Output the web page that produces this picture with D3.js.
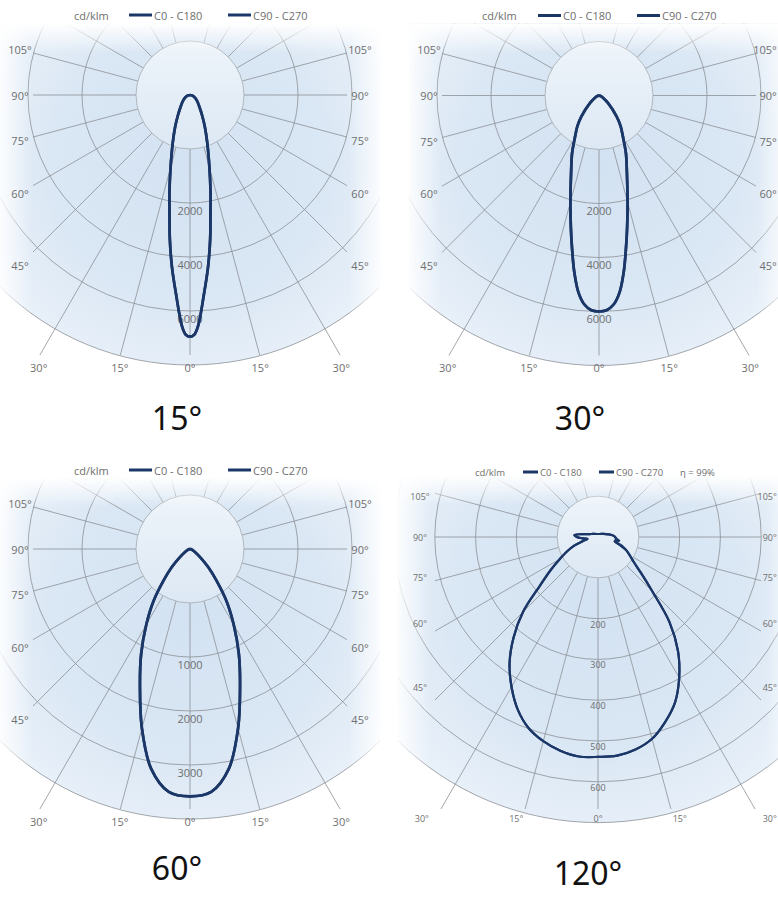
<!DOCTYPE html>
<html>
<head>
<meta charset="utf-8">
<script src="https://cdn.jsdelivr.net/npm/d3@7"></script>
<style>
  body { margin: 0; background: #fff; }
  svg { display: block; }
</style>
</head>
<body>
<svg id="chart" width="778" height="900"></svg>
<script>
// Gamma angles (deg from nadir) and luminous intensity in cd/klm.
var gamma15 = [0, 1, 2, 4, 6, 8, 10, 12, 15, 20, 25, 30, 40, 50, 60, 70, 80, 90];
var cd15 = [6950, 6880, 6560, 5400, 4400, 3370, 2370, 1830, 1390, 930, 650, 460, 260, 170, 110, 65, 28, 0];

var gamma30 = [0, 2, 4, 6, 8, 10, 12, 15, 20, 25, 30, 35, 40, 50, 60, 70, 80, 90];
var cd30 = [6000, 5960, 5760, 5320, 4590, 3750, 3010, 2090, 1510, 1180, 890, 700, 510, 220, 90, 35, 10, 0];

var gamma60 = [0, 5, 10, 15, 20, 25, 30, 35, 40, 45, 50, 60, 70, 80, 90];
var cd60 = [3580, 3515, 3135, 2440, 1710, 1140, 810, 590, 380, 240, 135, 50, 20, 5, 0];

var gamma120 = [0, 5, 10, 15, 20, 25, 30, 35, 40, 45, 50, 55, 60, 65, 70, 75, 80, 85, 90, 95, 100, 110, 120, 135, 150, 165, 180];
var cd120C0 = [539, 538, 529, 512, 482, 447, 398, 342, 273, 188, 138, 107, 90, 76, 56, 44, 53, 45, 42, 38, 32, 21, 15, 10.5, 8.5, 7.6, 7.4];
var cd120C180 = [539, 540, 532, 518, 498, 466, 424, 378, 322, 260, 186, 142, 108, 84, 62, 38, 26, 38, 52, 58, 40, 21, 15, 10.5, 8.5, 7.6, 7.4];
var cd120C90 = [539, 538, 529, 512, 482, 447, 398, 342, 273, 188, 138, 107, 90, 76, 62, 42, 44, 44, 42, 38, 32, 21, 15, 10.5, 8.5, 7.6, 7.4];
var cd120C270 = [539, 540, 532, 518, 498, 466, 424, 378, 322, 260, 186, 142, 108, 84, 62, 38, 26, 38, 52, 58, 40, 21, 15, 10.5, 8.5, 7.6, 7.4];

// Labelled circles and drawn circles.
var ticks15 = [2000, 4000, 6000];
var rings15 = [2000, 4000, 6000, 8000];
var ticks30 = [2000, 4000, 6000];
var rings30 = [2000, 4000, 6000, 8000];
var ticks60 = [1000, 2000, 3000];
var rings60 = [1000, 2000, 3000, 4000];
var ticks120 = [200, 300, 400, 500, 600];
var rings120 = [200, 300, 400, 500, 600, 700];

var sideAngles = [105, 90, 75, 60, 45];
var bottomAngles = [30, 15, 0, 15, 30];
var rayAngles = d3.range(0, 180, 15);
var titles = ["15°", "30°", "60°", "120°"];
var legendNames = ["C0 - C180", "C90 - C270"];
var unitLabel = "cd/klm";
var etaLabel = "η = 99%";

var navy = "#1b3768";
var gridColor = "#8b9097";
var textColor = "#6f6f6f";
var font = "'Open Sans', 'Noto Sans', sans-serif";
var pageW = 778;

var charts = [
  {id: "b15", title: titles[0], gamma: gamma15, planes: [[cd15, cd15], [cd15, cd15]],
    ticks: ticks15, rings: rings15, cx: 190, cy: 95, unit: 54,
    halfW: 190, topGap: 72, bottomGap: 285, rayX: 157, rayY: 260,
    sideX: 170, sideY: 170, bottomX: 262, bottomY: 272, font: 11, tickOff: 7, stroke: 2.7,
    legend: {dy: -80, size: 11, unitX: -116, items: [-61, 38], len: 23, eta: null},
    titleX: 177, titleY: 430},
  {id: "b30", title: titles[1], gamma: gamma30, planes: [[cd30, cd30], [cd30, cd30]],
    ticks: ticks30, rings: rings30, cx: 599, cy: 95.5, unit: 54,
    halfW: 190, topGap: 72, bottomGap: 285, rayX: 157, rayY: 260,
    sideX: 170, sideY: 170, bottomX: 262, bottomY: 272, font: 11, tickOff: 7, stroke: 2.7,
    legend: {dy: -80, size: 11, unitX: -117, items: [-61, 38], len: 23, eta: null},
    titleX: 580, titleY: 430},
  {id: "b60", title: titles[2], gamma: gamma60, planes: [[cd60, cd60], [cd60, cd60]],
    ticks: ticks60, rings: rings60, cx: 190, cy: 549, unit: 54,
    halfW: 190, topGap: 72, bottomGap: 285, rayX: 157, rayY: 260,
    sideX: 170, sideY: 170, bottomX: 262, bottomY: 272, font: 11, tickOff: 7, stroke: 2.7,
    legend: {dy: -79, size: 11, unitX: -116, items: [-61, 38], len: 23, eta: null},
    titleX: 177, titleY: 880},
  {id: "b120", title: titles[3], gamma: gamma120, planes: [[cd120C0, cd120C180], [cd120C90, cd120C270]],
    ticks: ticks120, rings: rings120, cx: 598, cy: 537, unit: 40.8,
    halfW: 200, topGap: 62, bottomGap: 292, rayX: 163, rayY: 272,
    sideX: 178, sideY: 150, bottomX: 305, bottomY: 281, font: 9, tickOff: 5.5, stroke: 2.2,
    legend: {dy: -65, size: 9.5, unitX: -123, items: [-75, 1], len: 15, eta: 82},
    titleX: 588, titleY: 885}
];

var svg = d3.select("#chart");
var defs = svg.append("defs");

// Shared white fades for the panel edges.
function fade(id, x1, y1, x2, y2, maxOpacity) {
  var lg = defs.append("linearGradient").attr("id", id)
    .attr("x1", x1).attr("y1", y1).attr("x2", x2).attr("y2", y2);
  lg.append("stop").attr("offset", 0).attr("stop-color", "#fff").attr("stop-opacity", maxOpacity);
  lg.append("stop").attr("offset", 1).attr("stop-color", "#fff").attr("stop-opacity", 0);
}
fade("fadeTop", 0, 0, 0, 1, 1);
fade("fadeLeft", 0, 0, 1, 0, 0.85);
fade("fadeRight", 1, 0, 0, 0, 0.85);

var disc = defs.append("linearGradient").attr("id", "disc")
  .attr("x1", 0).attr("y1", 0).attr("x2", 0).attr("y2", 1);
disc.append("stop").attr("offset", 0).attr("stop-color", "#eef4fa");
disc.append("stop").attr("offset", 1).attr("stop-color", "#dce8f4");

// Keep a label inside the page, as the reference shows it right at the edge.
function keepInside(sel) {
  sel.each(function () {
    var bb = this.getBBox();
    var over = bb.x + bb.width - (pageW - 1);
    if (over > 0) {
      d3.select(this).attr("x", +d3.select(this).attr("x") - over);
    }
  });
}

charts.forEach(drawChart);

function drawChart(c) {
  var rad = Math.PI / 180;
  var r = d3.scaleLinear()
    .domain([0, c.ticks[0], c.ticks[c.ticks.length - 1]])
    .range([0, 2 * c.unit, (c.ticks.length + 1) * c.unit]);
  var R = r(c.rings[c.rings.length - 1]);
  var top = c.cy - c.topGap, bottom = c.cy + c.bottomGap;
  var left = c.cx - c.halfW, right = c.cx + c.halfW;

  defs.append("clipPath").attr("id", "clip-" + c.id)
    .append("rect")
    .attr("x", left).attr("y", top)
    .attr("width", right - left).attr("height", bottom - top);

  var bg = defs.append("radialGradient").attr("id", "bg-" + c.id)
    .attr("gradientUnits", "userSpaceOnUse")
    .attr("cx", c.cx).attr("cy", c.cy + 70).attr("r", R);
  [[0, "#d3e2f2"], [0.5, "#dae7f4"], [0.8, "#e8f0f9"], [1, "#f8fbfd"]].forEach(function (s) {
    bg.append("stop").attr("offset", s[0]).attr("stop-color", s[1]);
  });

  var g = svg.append("g");
  var panel = g.append("g").attr("clip-path", "url(#clip-" + c.id + ")");

  panel.append("circle")
    .attr("cx", c.cx).attr("cy", c.cy).attr("r", R)
    .attr("fill", "url(#bg-" + c.id + ")");

  // Concentric circles.
  panel.selectAll(".ring")
    .data(c.rings)
    .join("circle")
    .attr("class", "ring")
    .attr("cx", c.cx).attr("cy", c.cy)
    .attr("r", function (d) { return r(d); })
    .attr("fill", "none")
    .attr("stroke", gridColor)
    .attr("stroke-width", 0.8);

  // Radial lines every 15 degrees, both sides.
  var rays = [];
  rayAngles.forEach(function (a) {
    rays.push({a: a, side: 1});
    if (a > 0) rays.push({a: a, side: -1});
  });
  function rayEnd(a) {
    var s = Math.sin(a * rad), co = Math.cos(a * rad);
    var lim = [];
    if (s > 1e-6) lim.push(c.rayX / s);
    if (co > 1e-6) lim.push(c.rayY / co);
    if (co < -1e-6) lim.push((c.cy - top) / -co);
    return d3.min(lim);
  }
  panel.selectAll(".ray")
    .data(rays)
    .join("line")
    .attr("class", "ray")
    .attr("x1", function (d) { return c.cx + d.side * Math.sin(d.a * rad) * c.unit; })
    .attr("y1", function (d) { return c.cy + Math.cos(d.a * rad) * c.unit; })
    .attr("x2", function (d) { return c.cx + d.side * Math.sin(d.a * rad) * rayEnd(d.a); })
    .attr("y2", function (d) { return c.cy + Math.cos(d.a * rad) * rayEnd(d.a); })
    .attr("stroke", gridColor)
    .attr("stroke-width", 0.8);

  // Inner disc.
  panel.append("circle")
    .attr("cx", c.cx).attr("cy", c.cy).attr("r", c.unit)
    .attr("fill", "url(#disc)")
    .attr("stroke", "#a3a9af")
    .attr("stroke-width", 0.8);

  // Edge fades.
  panel.append("rect").attr("x", left).attr("y", top)
    .attr("width", right - left).attr("height", 30).attr("fill", "url(#fadeTop)");
  panel.append("rect").attr("x", left).attr("y", top)
    .attr("width", 32).attr("height", bottom - top).attr("fill", "url(#fadeLeft)");
  panel.append("rect").attr("x", right - 32).attr("y", top)
    .attr("width", 32).attr("height", bottom - top).attr("fill", "url(#fadeRight)");

  // Intensity labels on the 0° axis.
  g.selectAll(".tick")
    .data(c.ticks)
    .join("text")
    .attr("class", "tick")
    .attr("x", c.cx)
    .attr("y", function (d) { return c.cy + r(d) + c.tickOff; })
    .attr("text-anchor", "middle")
    .attr("dominant-baseline", "central")
    .attr("font-family", font)
    .attr("font-size", c.font)
    .attr("fill", textColor)
    .text(function (d) { return String(d); });

  // Angle labels.
  var side = [];
  sideAngles.forEach(function (a) {
    side.push({a: a, s: -1});
    side.push({a: a, s: 1});
  });
  g.selectAll(".side")
    .data(side)
    .join("text")
    .attr("class", "side")
    .attr("x", function (d) { return c.cx + d.s * c.sideX; })
    .attr("y", function (d) { return c.cy + c.sideY * Math.tan((90 - d.a) * rad); })
    .attr("text-anchor", "middle")
    .attr("dominant-baseline", "central")
    .attr("font-family", font)
    .attr("font-size", c.font)
    .attr("fill", textColor)
    .text(function (d) { return d.a + "°"; })
    .call(keepInside);

  g.selectAll(".bottom")
    .data(bottomAngles)
    .join("text")
    .attr("class", "bottom")
    .attr("x", function (d, i) {
      var s = i < 2 ? -1 : 1;
      return c.cx + s * c.bottomX * Math.tan(d * rad);
    })
    .attr("y", c.cy + c.bottomY)
    .attr("text-anchor", "middle")
    .attr("dominant-baseline", "central")
    .attr("font-family", font)
    .attr("font-size", c.font)
    .attr("fill", textColor)
    .text(function (d) { return d + "°"; })
    .call(keepInside);

  // Distribution curves: right half = C0 / C90, left half = C180 / C270.
  var line = d3.lineRadial()
    .angle(function (d) { return d[0]; })
    .radius(function (d) { return r(d[1]); })
    .curve(d3.curveCatmullRom.alpha(0.5));

  c.planes.forEach(function (p) {
    var pts = [];
    for (var i = c.gamma.length - 1; i >= 0; i--) {
      pts.push([Math.PI + c.gamma[i] * rad, p[1][i]]);
    }
    for (var j = 1; j < c.gamma.length; j++) {
      pts.push([Math.PI - c.gamma[j] * rad, p[0][j]]);
    }
    g.append("path")
      .attr("transform", "translate(" + c.cx + "," + c.cy + ")")
      .attr("d", line(pts))
      .attr("fill", "none")
      .attr("stroke", navy)
      .attr("stroke-width", c.stroke)
      .attr("stroke-linejoin", "round");
  });

  // Legend.
  var lg = c.legend;
  var ly = c.cy + lg.dy;
  g.append("text")
    .attr("x", c.cx + lg.unitX).attr("y", ly)
    .attr("dominant-baseline", "central")
    .attr("font-family", font).attr("font-size", lg.size)
    .attr("fill", textColor)
    .text(unitLabel);
  lg.items.forEach(function (x, i) {
    g.append("line")
      .attr("x1", c.cx + x).attr("x2", c.cx + x + lg.len)
      .attr("y1", ly).attr("y2", ly)
      .attr("stroke", navy).attr("stroke-width", 3);
    g.append("text")
      .attr("x", c.cx + x + lg.len + 2).attr("y", ly)
      .attr("dominant-baseline", "central")
      .attr("font-family", font).attr("font-size", lg.size)
      .attr("fill", textColor)
      .text(legendNames[i]);
  });
  if (lg.eta !== null) {
    g.append("text")
      .attr("x", c.cx + lg.eta).attr("y", ly)
      .attr("dominant-baseline", "central")
      .attr("font-family", font).attr("font-size", lg.size)
      .attr("fill", textColor)
      .text(etaLabel);
  }

  // Beam angle title.
  svg.append("text")
    .attr("x", c.titleX).attr("y", c.titleY)
    .attr("text-anchor", "middle")
    .attr("font-family", "'Noto Sans', sans-serif")
    .attr("font-size", 32)
    .attr("fill", "#111")
    .text(c.title);
}
</script>
</body>
</html>
